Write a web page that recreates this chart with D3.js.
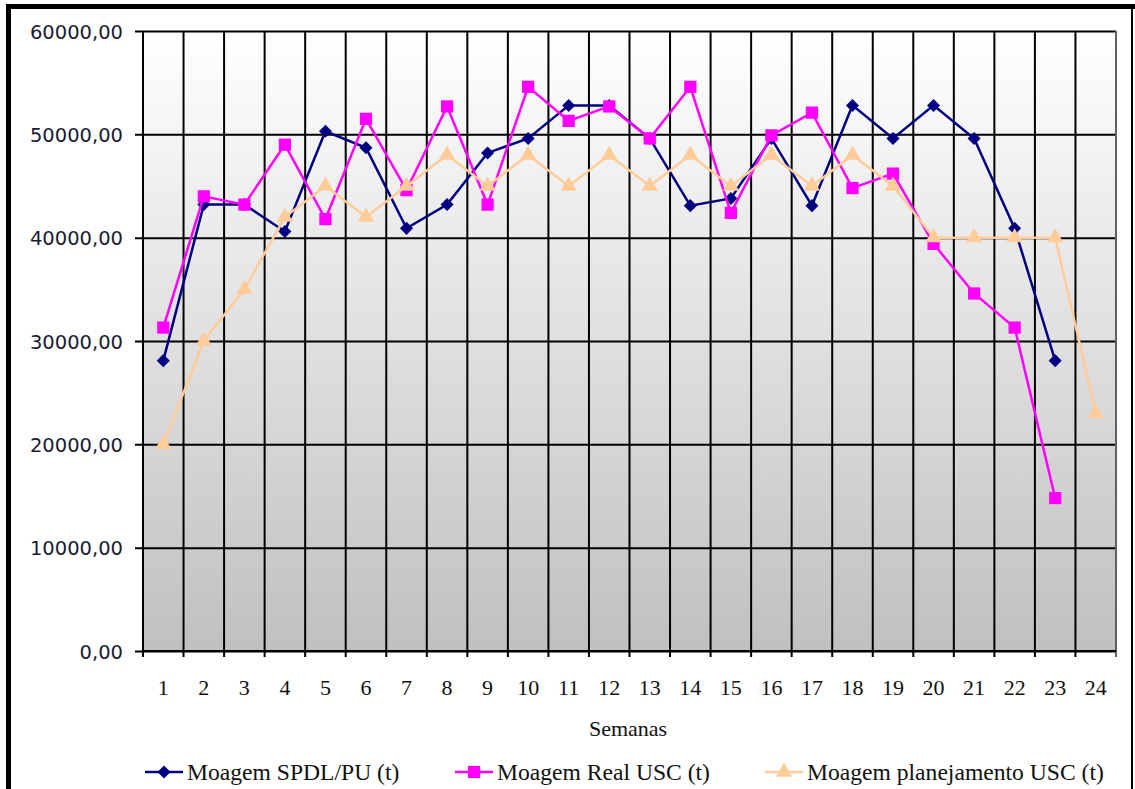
<!DOCTYPE html>
<html>
<head>
<meta charset="utf-8">
<script src="https://cdn.jsdelivr.net/npm/d3@7"></script>
<style>
  body { margin: 0; background: #fff; }
</style>
</head>
<body>
<script>
let w = 1135;
let h = 789;

let weeks = d3.range(1, 25);
let seriesNames = ["Moagem SPDL/PU (t)", "Moagem Real USC (t)", "Moagem planejamento USC (t)"];

let spdl = [28100, 43200, 43200, 40600, 50300, 48700, 40900, 43200, 48200, 49600, 52800, 52800,
            49600, 43100, 43800, 49600, 43100, 52800, 49600, 52800, 49600, 40900, 28100, null];
let real = [31300, 44000, 43200, 49000, 41800, 51500, 44600, 52700, 43200, 54600, 51300, 52700,
            49600, 54600, 42400, 49900, 52100, 44800, 46200, 39400, 34600, 31300, 14800, null];
let plan = [20000, 30000, 35000, 42000, 45000, 42000, 45000, 48000, 45000, 48000, 45000, 48000,
            45000, 48000, 45000, 48000, 45000, 48000, 45000, 40000, 40000, 40000, 40000, 23000];

let yTicks = [0, 10000, 20000, 30000, 40000, 50000, 60000];

let colors = ["#000080", "#ff00ff", "#ffcc99"];

let pLeft = 143, pRight = 1116, pTop = 31, pBottom = 651;

let x = d3.scaleBand()
    .domain(weeks)
    .range([pLeft, pRight])
    .padding(0)

let y = d3.scaleLinear()
    .domain([0, 60000])
    .range([pBottom, pTop])

let fmt = v => d3.format(".2f")(v).replace(".", ",");

let svg = d3.select("body")
    .append("svg")
    .attr("width", w)
    .attr("height", h)

let defs = svg.append("defs");
let grad = defs.append("linearGradient")
    .attr("id", "bg")
    .attr("x1", 0).attr("y1", 0).attr("x2", 0).attr("y2", 1)
grad.append("stop").attr("offset", "0%").attr("stop-color", "#ffffff")
grad.append("stop").attr("offset", "100%").attr("stop-color", "#c0c0c0")

// plot background
svg.append("rect")
    .attr("x", pLeft)
    .attr("y", pTop)
    .attr("width", pRight - pLeft)
    .attr("height", pBottom - pTop)
    .attr("fill", "url(#bg)")

// horizontal grid + y labels
svg.append("g")
    .attr("transform", `translate(${pLeft},0)`)
    .call(d3.axisLeft(y).tickValues(yTicks).tickSize(8).tickFormat(fmt))
    .call(g => g.select(".domain").remove())
    .call(g => g.selectAll(".tick line").attr("stroke", "#000").attr("stroke-width", 2)
        .attr("x2", -8).attr("x1", pRight - pLeft))
    .call(g => g.selectAll(".tick text")
        .attr("x", -20)
        .attr("dy", "0.36em")
        .attr("fill", "#1a1a33")
        .attr("font-family", "DejaVu Sans, sans-serif")
        .attr("font-size", "19.5px"))

// vertical grid at category boundaries
let bounds = d3.range(weeks.length + 1).map(i => pLeft + i * x.step());
svg.selectAll("line.vgrid")
    .data(bounds)
    .enter()
    .append("line")
    .attr("class", "vgrid")
    .attr("x1", d => d)
    .attr("x2", d => d)
    .attr("y1", pTop)
    .attr("y2", pBottom + 6)
    .attr("stroke", (d, i) => i === weeks.length ? "#606060" : "#000")
    .attr("stroke-width", 2)

// x axis line
svg.append("line")
    .attr("x1", pLeft).attr("x2", pRight)
    .attr("y1", pBottom).attr("y2", pBottom)
    .attr("stroke", "#000").attr("stroke-width", 2)

// x labels
svg.selectAll("text.xlab")
    .data(weeks)
    .enter()
    .append("text")
    .attr("class", "xlab")
    .text(d => d)
    .attr("x", d => x(d) + x.bandwidth() / 2)
    .attr("y", 695)
    .attr("text-anchor", "middle")
    .attr("font-family", "Liberation Serif, serif")
    .attr("font-size", "22px")
    .attr("fill", "#111")

svg.append("text")
    .text("Semanas")
    .attr("x", 628)
    .attr("y", 736)
    .attr("text-anchor", "middle")
    .attr("font-family", "Liberation Serif, serif")
    .attr("font-size", "22px")
    .attr("fill", "#111")

// series
let allSeries = [spdl, real, plan];
let symbols = [
    d3.symbol().type(d3.symbolSquare).size(85),
    d3.symbol().type(d3.symbolSquare).size(150),
    d3.symbol().type(d3.symbolTriangle).size(115)
];
let rot = [45, 0, 0];

let line = d3.line()
    .defined(d => d.v != null)
    .x(d => x(d.k) + x.bandwidth() / 2)
    .y(d => y(d.v))

allSeries.forEach((vals, s) => {
    let pts = weeks.map((k, i) => ({k: k, v: vals[i]}));
    let g = svg.append("g");
    g.append("path")
        .datum(pts)
        .attr("d", line)
        .attr("fill", "none")
        .attr("stroke", colors[s])
        .attr("stroke-width", 2.5)
    g.selectAll("path.mk")
        .data(pts.filter(d => d.v != null))
        .enter()
        .append("path")
        .attr("class", "mk")
        .attr("d", symbols[s])
        .attr("transform", d => `translate(${x(d.k) + x.bandwidth() / 2},${y(d.v)}) rotate(${rot[s]})`)
        .attr("fill", colors[s])
});

// legend
let legX = [164, 474, 784];
let legY = 772;
seriesNames.forEach((name, s) => {
    let g = svg.append("g");
    g.append("line")
        .attr("x1", legX[s] - 19).attr("x2", legX[s] + 19)
        .attr("y1", legY).attr("y2", legY)
        .attr("stroke", colors[s]).attr("stroke-width", 2.5)
    g.append("path")
        .attr("d", symbols[s])
        .attr("transform", `translate(${legX[s]},${legY}) rotate(${rot[s]})`)
        .attr("fill", colors[s])
    g.append("text")
        .text(name)
        .attr("x", legX[s] + 23)
        .attr("y", legY + 8)
        .attr("font-family", "Liberation Serif, serif")
        .attr("font-size", "23.6px")
        .attr("fill", "#111")
});

// outer frame
svg.append("rect").attr("x", 6).attr("y", 4).attr("width", w - 6).attr("height", 5).attr("fill", "#000")
svg.append("rect").attr("x", 6).attr("y", 4).attr("width", 5).attr("height", h - 4).attr("fill", "#000")
svg.append("rect").attr("x", 1131).attr("y", 4).attr("width", 2).attr("height", h - 4).attr("fill", "#000")
</script>
</body>
</html>
